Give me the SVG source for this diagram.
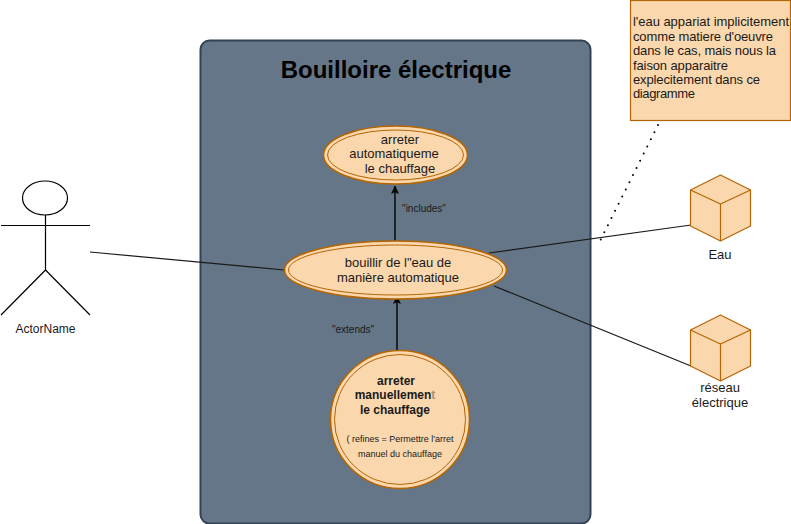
<svg xmlns="http://www.w3.org/2000/svg" width="791" height="524" viewBox="0 0 791 524">
<defs>
<marker id="arrow" markerUnits="userSpaceOnUse" markerWidth="10" markerHeight="10" refX="7.500" refY="4" orient="auto"><path d="M0 0.500L7.500 4L0 7.500L1.500 4Z" fill="#000" stroke="#000" stroke-width="0.5"/></marker>
</defs>
<style>
text{font-family:"Liberation Sans",Arial,sans-serif;fill:#1a1a1a;text-anchor:middle}
.u{fill:#fad7ac;stroke:#b46504;stroke-width:1.600}
.i{fill:none;stroke:#b46504;stroke-width:1}
.c{fill:#fad7ac;stroke:#b46504;stroke-width:1.200;stroke-linejoin:round}
.l{fill:none;stroke:#000;stroke-width:1.400}
.e{fill:none;stroke:#1a1a1a;stroke-width:1.200}
.t{font-size:13px}
.a{font-size:12px}
.b{font-size:12px;font-weight:700}
.s{font-size:10px}
.r{font-size:9px}
.n{font-size:13px;text-anchor:start}
</style>
<g id="system"><rect x="200.500" y="40.500" width="390" height="483" rx="9" fill="#647687" stroke="#314354" stroke-width="2"/>
<text x="396" y="78" font-size="24" font-weight="700" style="fill:#000">Bouilloire électrique</text></g>
<g id="connectors">
<path class="e" d="M90 252L284 270"/>
<path class="e" d="M489 253L691 225"/>
<path class="e" d="M494 286L691 366"/>
<path class="l" d="M395 241V186" marker-end="url(#arrow)"/>
<path class="l" d="M397 351V296" marker-end="url(#arrow)"/>
<path d="M658 125L600 241" fill="none" stroke="#000" stroke-width="2" stroke-linecap="round" stroke-dasharray="0 8"/>
<text class="s" x="424" y="212">"includes"</text>
<text class="s" x="353" y="333">"extends"</text>
</g>
<g id="actor"><ellipse cx="45" cy="198" rx="22.500" ry="17" fill="#fff" stroke="#000" stroke-width="1.200"/>
<path d="M45.500 215V270M1 225.500H90M45.500 270L1 315M45.500 270L90 315" fill="none" stroke="#000" stroke-width="1.200"/>
<text class="a" x="45.500" y="333">ActorName</text></g>
<g id="uc-arreter-auto"><ellipse class="u" cx="395.500" cy="155" rx="72" ry="29"/><ellipse class="i" cx="395.500" cy="155" rx="68" ry="25"/>
<text class="t" x="400" y="144">arreter</text><text class="t" x="394" y="158">automatiqueme</text><text class="t" x="400" y="173">le chauffage</text></g>
<g id="uc-bouillir"><ellipse class="u" cx="395.500" cy="270" rx="111" ry="29"/><ellipse class="i" cx="395.500" cy="270" rx="107" ry="25"/>
<text class="t" x="398" y="267">bouillir de l"eau de</text><text class="t" x="398" y="282">manière automatique</text></g>
<g id="uc-arreter-manuel"><ellipse class="u" cx="400" cy="419.500" rx="69.500" ry="69"/><ellipse class="i" cx="400" cy="419.500" rx="65.500" ry="65"/>
<text class="b" x="396" y="385">arreter</text><text class="b" x="395" y="399">manuellemen<tspan fill-opacity="0.400">t</tspan></text><text class="b" x="395" y="414">le chauffage</text>
<text class="r" x="400" y="442">( refines = Permettre l'arret</text><text class="r" x="400" y="457">manuel du chauffage</text></g>
<g id="note"><rect x="630.500" y="0.500" width="160" height="120" fill="#fad7ac" stroke="#b46504" stroke-width="1.200"/>
<text class="n" x="633" y="26" textLength="156">l'eau appariat implicitement</text><text class="n" x="633" y="41" textLength="140">comme matiere d'oeuvre</text><text class="n" x="633" y="55" textLength="143">dans le cas, mais nous la</text><text class="n" x="633" y="70" textLength="95">faison apparaitre</text><text class="n" x="633" y="84" textLength="127">explecitement dans ce</text><text class="n" x="633" y="98" textLength="62">diagramme</text></g>
<g id="eau"><path class="c" d="M720.500 175L750.500 190V226L720.500 241L690.500 226V190Z"/><path class="c" style="fill:none" d="M690.500 190L720.500 204L750.500 190M720.500 204V241"/><text class="t" x="720" y="259">Eau</text></g>
<g id="reseau"><path class="c" d="M720.500 315L750.500 330V366L720.500 381L690.500 366V330Z"/><path class="c" style="fill:none" d="M690.500 330L720.500 344L750.500 330M720.500 344V381"/><text class="t" x="720" y="392">réseau</text><text class="t" x="720" y="407">électrique</text></g>
</svg>
